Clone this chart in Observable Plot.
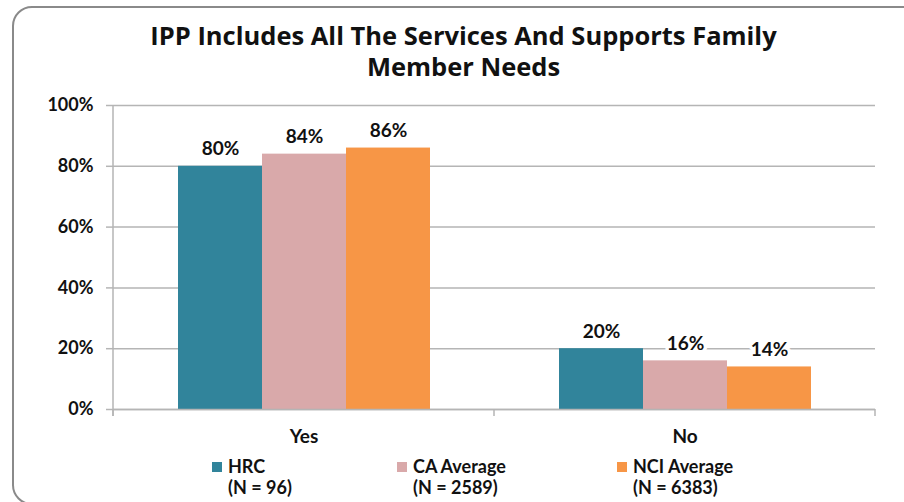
<!DOCTYPE html>
<html><head><meta charset="utf-8">
<script src="https://cdn.jsdelivr.net/npm/d3@7"></script>
<script src="https://cdn.jsdelivr.net/npm/@observablehq/plot@0.6"></script>
<style>
html,body{margin:0;padding:0;background:#fff;overflow:hidden;width:904px;height:502px;font-family:Lato,sans-serif;color:#111;}
#frame{position:absolute;left:12px;top:6px;width:1000px;height:499px;border:2.5px solid #8a8a8a;border-radius:20px;box-sizing:border-box;}
#title{position:absolute;left:0;top:20px;width:927px;text-align:center;font-family:"Open Sans",sans-serif;font-weight:bold;font-size:25.5px;line-height:31px;}
#chart{position:absolute;left:0;top:90px;}
.leg{position:absolute;top:456px;font-weight:bold;font-size:18px;line-height:21px;white-space:nowrap;}
.leg div.t{padding-left:16px;height:21px;}
.sw{position:absolute;width:10px;height:10px;top:6px;}
</style></head>
<body>
<div id="frame"></div>
<div id="title">IPP Includes All The Services And Supports Family<br>Member Needs</div>
<div id="chart"></div>
<div id="legend"></div>
<script>
const categories = ["Yes", "No"];
const seriesNames = ["HRC", "CA Average", "NCI Average"];
const seriesN = ["(N = 96)", "(N = 2589)", "(N = 6383)"];
const hrcValues = [80, 20];
const caValues = [84, 16];
const nciValues = [86, 14];
const seriesColors = ["#31849B", "#D9A9AA", "#F79646"];
const yTicks = [0, 20, 40, 60, 80, 100];

const valuesBySeries = [hrcValues, caValues, nciValues];
const data = [];
seriesNames.forEach((s, i) => categories.forEach((c, j) =>
  data.push({category: c, series: s, value: valuesBySeries[i][j]})));

const grey = "#b5b5b5";
const chart = Plot.plot({
  width: 904, height: 370,
  marginLeft: 112, marginRight: 29, marginTop: 15, marginBottom: 51,
  style: {fontFamily: "Lato, sans-serif", fontSize: "18px", fontWeight: "bold", color: "#111", background: "transparent", overflow: "visible"},
  fx: {domain: categories, padding: 0, label: null},
  x: {domain: seriesNames, paddingInner: 0, paddingOuter: 0.75, axis: null},
  y: {domain: [0, 100], label: null},
  color: {domain: seriesNames, range: seriesColors},
  marks: [
    Plot.gridY(yTicks, {stroke: grey, strokeOpacity: 1, strokeWidth: 1.5}),
    Plot.axisY(yTicks, {tickFormat: d => d + "%", tickSize: 7, tickPadding: 13, stroke: grey, strokeWidth: 1.5, strokeOpacity: 1, label: null, fontSize: 18}),
    Plot.axisFx({anchor: "bottom", tickSize: 0, tickPadding: 20, label: null, fontSize: 19}),
    Plot.barY(data, {fx: "category", x: "series", y: "value", fill: "series"}),
    Plot.ruleY([0], {stroke: grey, strokeWidth: 1.5}),
    Plot.text(data, {fx: "category", x: "series", y: "value", text: d => d.value + "%", dy: -11, lineAnchor: "bottom", stroke: "white", strokeWidth: 7, fill: "#111", fontSize: 19})
  ]
});
document.getElementById("chart").appendChild(chart);

// axis line and category boundary ticks, from the plot's own scales
const svg = d3.select(chart);
const fx = chart.scale("fx"), y = chart.scale("y");
const y0 = y.apply(0), yTop = y.apply(100);
const bw = fx.bandwidth;
const bounds = categories.map(c => fx.apply(c)).concat([fx.apply(categories[categories.length - 1]) + bw]);
svg.append("line").attr("x1", bounds[0]).attr("x2", bounds[0]).attr("y1", yTop).attr("y2", y0 + 7)
  .attr("stroke", grey).attr("stroke-width", 1.5);
bounds.forEach(b => svg.append("line").attr("x1", b).attr("x2", b).attr("y1", y0).attr("y2", y0 + 7)
  .attr("stroke", grey).attr("stroke-width", 1.5));

// legend
const legLeft = [212, 397, 617];
const leg = d3.select("#legend");
seriesNames.forEach((s, i) => {
  const it = leg.append("div").attr("class", "leg").style("left", legLeft[i] + "px");
  it.append("div").attr("class", "sw").style("background", seriesColors[i]);
  it.append("div").attr("class", "t").text(s);
  it.append("div").attr("class", "t").text(seriesN[i]);
});
</script>
</body></html>
